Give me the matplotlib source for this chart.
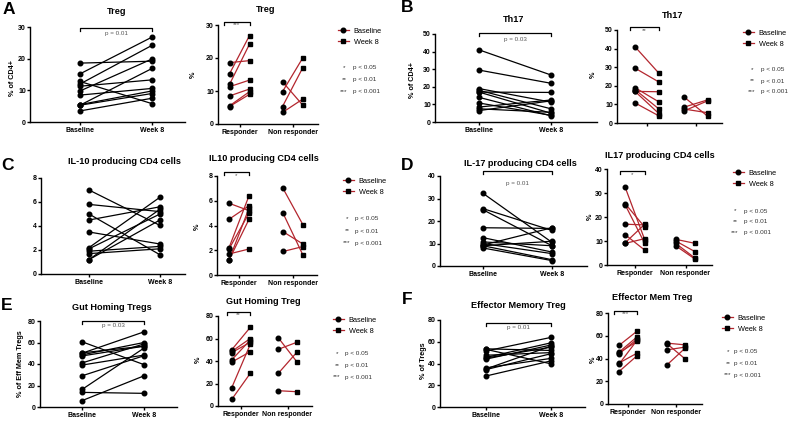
import numpy as np
import matplotlib
matplotlib.use('Agg')
import matplotlib.pyplot as plt
from matplotlib.lines import Line2D
from matplotlib.transforms import blended_transform_factory

plt.rcParams['font.family'] = ['Liberation Sans', 'DejaVu Sans']
plt.rcParams['font.weight'] = 'bold'

# ---------------- data ----------------
timepoints = ['Baseline', 'Week 8']
groups = ['Responder', 'Non responder']
legend_labels = ['Baseline', 'Week 8']
stat_stars = ['*', '**', '***']
stat_texts = ['p < 0.05', 'p < 0.01', 'p < 0.001']

# A  Treg (% of CD4+)
a_resp_base = [18.6, 15.2, 12.0, 11.3, 8.5, 5.5, 5.3]
a_resp_wk8 = [19.2, 26.8, 24.2, 13.3, 10.6, 9.8, 9.0]
a_nonr_base = [12.8, 9.8, 5.3, 3.5]
a_nonr_wk8 = [5.8, 19.9, 16.9, 7.5]

# B  Th17 (% of CD4+)
b_resp_base = [41.0, 29.5, 19.0, 18.0, 17.0, 17.0, 10.8]
b_resp_wk8 = [26.7, 22.0, 11.3, 7.5, 16.8, 5.0, 3.8]
b_nonr_base = [14.0, 8.5, 7.5, 6.5]
b_nonr_wk8 = [3.5, 12.5, 5.5, 12.0]

# C  IL-10 producing CD4 cells
c_resp_base = [5.8, 4.5, 2.2, 2.1, 1.7, 1.2, 1.2]
c_resp_wk8 = [5.2, 5.6, 6.4, 5.0, 2.1, 5.4, 4.5]
c_nonr_base = [7.0, 5.0, 3.5, 1.9]
c_nonr_wk8 = [4.05, 1.6, 2.5, 2.3]

# D  IL-17 producing CD4 cells
d_resp_base = [32.3, 25.5, 25.0, 17.0, 12.6, 9.3, 9.0]
d_resp_wk8 = [10.5, 15.8, 9.0, 16.7, 6.2, 17.0, 11.0]
d_nonr_base = [10.7, 10.0, 9.0, 8.0]
d_nonr_wk8 = [9.0, 5.5, 2.8, 2.4]

# E  Gut homing Tregs (% of Eff Mem Tregs)
e_resp_base = [50.0, 48.5, 47.5, 41.0, 39.0, 16.3, 5.9]
e_resp_wk8 = [69.9, 60.0, 56.6, 58.7, 48.3, 54.8, 29.0]
e_nonr_base = [60.7, 50.4, 29.0, 13.6]
e_nonr_wk8 = [39.4, 56.6, 47.7, 12.7]

# F  Effector memory Treg (% of Tregs)
f_resp_base = [51.5, 45.6, 45.0, 44.0, 36.0, 35.0, 28.5]
f_resp_wk8 = [64.0, 59.0, 55.0, 57.0, 44.7, 56.0, 42.4]
f_nonr_base = [53.5, 53.0, 47.6, 34.4]
f_nonr_wk8 = [52.0, 39.7, 50.0, 49.0]

# ---------------- layout / style ----------------
W, H = 800, 421
RED = '#B3262E'
GREY = '#555555'

fig = plt.figure(figsize=(W / 100, H / 100), dpi=100)


def px(x, y):
    return x / W, 1 - y / H


def make_ax(g):
    ax = fig.add_axes([g['xs'] / W, 1 - g['y0'] / H,
                       (g['xe'] - g['xs']) / W, (g['y0'] - g['ytop']) / H])
    for s in ['top', 'right']:
        ax.spines[s].set_visible(False)
    for s in ['left', 'bottom']:
        ax.spines[s].set_linewidth(1.0)
    ax.tick_params(length=2.2, width=1.0, labelsize=5, pad=0.8)
    ax.tick_params(axis='x', pad=1.4)
    return ax


def yfrac(g, ypix):
    return (g['y0'] - ypix) / (g['y0'] - g['ytop'])


def bracket(ax, g, x0, x1, ypix, text, ytext, size):
    tr = blended_transform_factory(ax.transData, ax.transAxes)
    yb = yfrac(g, ypix)
    dy = 3.0 / (g['y0'] - g['ytop'])
    ax.plot([x0, x0, x1, x1], [yb - dy, yb, yb, yb - dy], color='black', lw=0.9,
            transform=tr, clip_on=False)
    ax.text((x0 + x1) / 2, yfrac(g, ytext), text, transform=tr, ha='center',
            va='center', fontsize=size, color=GREY, fontweight='normal')


def left_panel(g, base, wk8, ymax, ystep, title, show_xlabels=True):
    ax = make_ax(g)
    u = g['xw'] - g['xb']
    ax.set_xlim(-(g['xb'] - g['xs']) / u, 1 + (g['xe'] - g['xw']) / u)
    ax.set_ylim(0, ymax)
    for b, w in zip(base, wk8):
        ax.plot([0, 1], [b, w], color='black', lw=0.9, marker='o', ms=3.3,
                mfc='black', mec='black', clip_on=False, zorder=3)
    ax.set_xticks([0, 1])
    ax.set_xticklabels(timepoints if show_xlabels else ['', ''])
    ax.set_yticks(np.arange(0, ymax + 0.01, ystep))
    fig.text(*px(*g['title']), title, ha='center', va='center', fontsize=6.6,
             fontweight='bold')
    if g.get('ylabel'):
        fig.text(*px(*g['ylabel_xy']), g['ylabel'], rotation=90, ha='center',
                 va='center', fontsize=5.2, fontweight='bold')
    if g.get('pval'):
        bracket(ax, g, 0, 1, g['br_y'], g['pval'], g['p_y'], 4.5)
    return ax


def right_panel(g, rb, rw, nb, nw, ymax, ystep, title, stars, show_xlabels=True):
    ax = make_ax(g)
    c0 = (g['Rb'] + g['Rw']) / 2
    c1 = (g['Nb'] + g['Nw']) / 2
    u = c1 - c0
    d = ((g['Rw'] - g['Rb']) + (g['Nw'] - g['Nb'])) / 4 / u
    ax.set_xlim((g['xs'] - c0) / u, (g['xe'] - c0) / u)
    ax.set_ylim(0, ymax)
    for pos, bs, ws in [(0, rb, rw), (1, nb, nw)]:
        for b, w in zip(bs, ws):
            ax.plot([pos - d, pos + d], [b, w], color=RED, lw=0.9, zorder=2,
                    clip_on=False)
        ax.plot([pos - d] * len(bs), bs, 'o', ms=3.3, color='black', zorder=3,
                clip_on=False)
        ax.plot([pos + d] * len(ws), ws, 's', ms=3.1, color='black', zorder=3,
                clip_on=False)
    ax.set_xticks([0, 1])
    ax.set_xticklabels(groups if show_xlabels else ['', ''])
    ax.set_yticks(np.arange(0, ymax + 0.01, ystep))
    fig.text(*px(*g['title']), title, ha='center', va='center', fontsize=6.6,
             fontweight='bold')
    fig.text(*px(*g['ylabel_xy']), '%', rotation=90, ha='center', va='center',
             fontsize=5.2, fontweight='bold')
    bracket(ax, g, -d - 0.1, d, g['br_y'], stars, g['st_y'], 4.5)
    return ax


def legend_block(lg):
    handles = [Line2D([], [], color=RED, lw=0.9, marker='o', ms=3.3,
                      mfc='black', mec='black'),
               Line2D([], [], color=RED, lw=0.9, marker='s', ms=3.1,
                      mfc='black', mec='black')]
    fig.legend(handles, legend_labels, loc='upper left',
               bbox_to_anchor=px(lg['x'], lg['y'] - 5.5),
               frameon=False, borderpad=0, borderaxespad=0,
               handlelength=1.45, handletextpad=0.7, labelspacing=0.55,
               prop={'size': 5.3, 'weight': 'normal'})
    for s, t, yy in zip(stat_stars, stat_texts, lg['sy']):
        fig.text(*px(lg['sx'], yy), s, ha='center', va='center', fontsize=4.6,
                 fontweight='normal', color='#333333')
        fig.text(*px(lg['px'], yy), t, ha='left', va='center', fontsize=4.6,
                 fontweight='normal', color='#333333')


def letter(ch, x, y):
    fig.text(*px(x, y), ch, ha='center', va='center', fontsize=12.5,
             fontweight='bold')


# ---------------- panels ----------------
# A
letter('A', 9, 9)
left_panel(dict(xs=30, xe=185, ytop=27, y0=122, xb=80, xw=152, title=(117, 12),
                ylabel='% of CD4+', ylabel_xy=(13, 78), pval='p = 0.01',
                br_y=28, p_y=33),
           a_resp_base + a_nonr_base, a_resp_wk8 + a_nonr_wk8, 30, 10, 'Treg')
right_panel(dict(xs=218, xe=318, ytop=25, y0=124, Rb=230, Rw=249, Nb=282, Nw=303,
                 title=(266, 9), ylabel_xy=(193, 75), br_y=22, st_y=25),
            a_resp_base, a_resp_wk8, a_nonr_base, a_nonr_wk8, 30, 10, 'Treg', '***')
legend_block(dict(x=338, y=33, sx=344, px=353, sy=[68, 80, 92]))

# B
letter('B', 407, 8)
left_panel(dict(xs=435, xe=597, ytop=34, y0=122, xb=479, xw=551, title=(514, 20),
                ylabel='% of CD4+', ylabel_xy=(413, 80), pval='p = 0.03',
                br_y=33, p_y=39),
           b_resp_base + b_nonr_base, b_resp_wk8 + b_nonr_wk8, 50, 10, 'Th17')
right_panel(dict(xs=617, xe=722, ytop=30, y0=123, Rb=637, Rw=657, Nb=682, Nw=710,
                 title=(673, 15), ylabel_xy=(593, 75), br_y=27, st_y=31),
            b_resp_base, b_resp_wk8, b_nonr_base, b_nonr_wk8, 50, 10, 'Th17', '**',
            show_xlabels=False)
legend_block(dict(x=743, y=35, sx=752, px=761, sy=[70, 81, 92]))

# C
letter('C', 8, 166)
left_panel(dict(xs=41, xe=185, ytop=178, y0=274, xb=89, xw=160, title=(124, 162)),
           c_resp_base + c_nonr_base, c_resp_wk8 + c_nonr_wk8, 8, 2,
           'IL-10 producing CD4 cells')
right_panel(dict(xs=217, xe=317, ytop=176, y0=275, Rb=229, Rw=249, Nb=283, Nw=303,
                 title=(264, 159), ylabel_xy=(197, 227), br_y=172, st_y=176),
            c_resp_base, c_resp_wk8, c_nonr_base, c_nonr_wk8, 8, 2,
            'IL10 producing CD4 cells', '*')
legend_block(dict(x=343, y=183, sx=347, px=355, sy=[219, 231, 243]))

# D
letter('D', 407, 165)
left_panel(dict(xs=440, xe=587, ytop=176, y0=266, xb=483, xw=552, title=(520, 163),
                pval='p = 0.01', br_y=171, p_y=183),
           d_resp_base + d_nonr_base, d_resp_wk8 + d_nonr_wk8, 40, 10,
           'IL-17 producing CD4 cells')
right_panel(dict(xs=607, xe=712, ytop=169, y0=265, Rb=625, Rw=645, Nb=676, Nw=695,
                 title=(660, 155), ylabel_xy=(590, 217), br_y=171, st_y=174.5),
            d_resp_base, d_resp_wk8, d_nonr_base, d_nonr_wk8, 40, 10,
            'IL17 producing CD4 cells', '*')
legend_block(dict(x=733, y=175, sx=735, px=744, sy=[211, 222, 233]))

# E
letter('E', 7, 306)
left_panel(dict(xs=40, xe=177, ytop=321, y0=407, xb=82, xw=144, title=(112, 307),
                ylabel='% of Eff Mem Tregs', ylabel_xy=(21, 364), pval='p = 0.03',
                br_y=321, p_y=326),
           e_resp_base + e_nonr_base, e_resp_wk8 + e_nonr_wk8, 80, 20,
           'Gut Homing Tregs')
right_panel(dict(xs=218, xe=312, ytop=316, y0=406, Rb=232, Rw=250, Nb=278, Nw=297,
                 title=(263, 301), ylabel_xy=(198, 360), br_y=312, st_y=315),
            e_resp_base, e_resp_wk8, e_nonr_base, e_nonr_wk8, 80, 20,
            'Gut Homing Treg', '**')
legend_block(dict(x=333, y=322, sx=337, px=345, sy=[354, 366, 377]))

# F
letter('F', 407, 300)
left_panel(dict(xs=440, xe=585, ytop=320, y0=407, xb=486, xw=551, title=(518, 305),
                ylabel='% of Tregs', ylabel_xy=(423, 361), pval='p = 0.01',
                br_y=323, p_y=328),
           f_resp_base + f_nonr_base, f_resp_wk8 + f_nonr_wk8, 80, 20,
           'Effector Memory Treg')
right_panel(dict(xs=608, xe=702, ytop=313, y0=404, Rb=619, Rw=637, Nb=667, Nw=685,
                 title=(652, 298), ylabel_xy=(593, 360), br_y=311, st_y=314),
            f_resp_base, f_resp_wk8, f_nonr_base, f_nonr_wk8, 80, 20,
            'Effector Mem Treg', '***')
legend_block(dict(x=722, y=320, sx=728, px=734, sy=[352, 364, 375]))

fig.savefig('out.png', dpi=100)
